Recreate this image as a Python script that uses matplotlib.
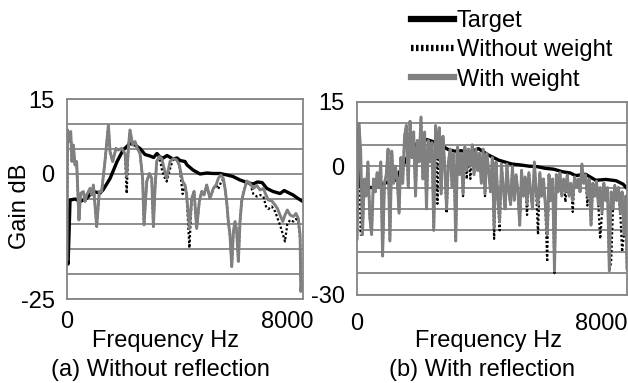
import matplotlib
matplotlib.use("Agg")
import matplotlib.pyplot as plt
from matplotlib.lines import Line2D

plt.rcParams['font.family'] = ['Liberation Sans', 'DejaVu Sans']

# ── (a) without reflection ───────────────────────────────────────────────────
target_a_hz = [0, 40, 110, 300, 470, 690, 945, 1200, 1310, 1565,
               1820, 2040, 2290, 2470, 2655, 2835, 3020, 3150, 3270, 3380,
               3500, 3635, 3855, 4000, 4110, 4290, 4365, 4580, 4835, 5090,
               5310, 5565, 5820, 6035, 6290, 6545, 6765, 6920, 7090, 7270,
               7490, 7745, 7900, 8000, 8220, 8400, 8545]
target_a = [-17, -18, -5.2, -5.0, -5.5, -5.0, -3.5, -3.8, -3.2, -0.9,
            2.5, 4.8, 6.1, 5.8, 5.1, 3.9, 3.6, 3.3, 4.1, 3.4,
            3.2, 3.7, 3.0, 3.2, 2.7, 2.5, 1.8, 0.8, 0, 0.2,
            0.1, 0.1, -0.2, -0.5, -1.2, -1.7, -2.0, -1.6, -1.7, -2.9,
            -3.5, -3.9, -3.3, -3.6, -4.2, -4.9, -5.4]

freq_a = [0, 20, 85, 135, 180, 230, 290, 350, 435, 495,
          595, 655, 715, 835, 900, 960, 1080, 1175, 1260, 1380,
          1505, 1565, 1660, 1780, 1865, 1990, 2110, 2170, 2230, 2290,
          2390, 2475, 2560, 2655, 2750, 2800, 2900, 2995, 3080, 3140,
          3200, 3260, 3360, 3445, 3530, 3625, 3745, 3865, 3990, 4085,
          4205, 4290, 4350, 4450, 4535, 4620, 4715, 4810, 4900, 4980,
          5080, 5200, 5320, 5420, 5500, 5590, 5685, 5745, 5805, 5865,
          5925, 5990, 6050, 6110, 6170, 6230, 6290, 6350, 6410, 6535,
          6655, 6775, 6900, 7020, 7140, 7235, 7320, 7445, 7565, 7650,
          7745, 7845, 7925, 8010, 8110, 8230, 8325, 8410, 8475, 8500,
          8540]
with_w_a = [-17, 8.8, 6.5, 8.5, 2.5, 5.8, 1.8, 2.5, -9.2, -3.9,
            -3.5, -5.5, -4.2, -2.9, -4.2, -2.2, -10.5, -3.5, -3.5, 2.5,
            9.8, 4.5, 2.5, 5.1, 4.8, 5.1, 4.1, -0.5, 5.1, 8.8,
            5.8, 6.5, 5.1, 4.1, -0.9, -10.2, -1.5, 0.1, -0.9, -10.5,
            -2.9, 2.5, 3.5, 3.1, 1.1, -0.9, 2.5, 3.1, 2.8, 1.8,
            -1.5, -2.2, -4.2, -10.9, -4.9, -3.5, -10.9, -5.5, -3.5, -4.2,
            -2.2, -4.9, -2.9, -2.2, -0.9, -0.2, -0.9, -2.9, -5.5, -9.5,
            -12.2, -18.5, -11.5, -9.5, -11.5, -17.5, -9.5, -5.5, -3.9, -1.4,
            -1.9, -2.9, -2.3, -3.2, -2.9, -4.2, -5.2, -5.4, -6.2, -6.9,
            -8.2, -9.5, -8.2, -7.2, -8.2, -8.5, -7.9, -8.9, -12.2, -23.5,
            -21.5]
without_w_a = [-17, 8.8, 6.5, 8.5, 2.5, 5.8, 1.8, 2.5, -9.2, -3.9,
               -3.5, -5.5, -4.2, -2.9, -4.2, -2.2, -10.5, -3.5, -3.5, 2.5,
               9.8, 4.5, 2.5, 5.1, 4.8, 5.1, 4.1, -3.9, 5.1, 8.8,
               5.8, 6.5, 5.1, 4.1, -0.9, -10.2, -1.5, 0.1, -0.9, -10.5,
               -2.9, 2.5, 3.5, 1.0, -0.5, -1.5, 1.0, 3.1, 2.8, 1.8,
               -4.0, -2.2, -4.2, -14.8, -4.9, -3.5, -10.9, -5.5, -3.5, -4.2,
               -2.2, -4.9, -2.9, -2.2, -3.0, -1.8, -0.9, -2.9, -5.5, -9.5,
               -12.2, -18.5, -11.5, -9.5, -11.5, -17.5, -9.5, -5.5, -3.9, -1.4,
               -1.9, -4.0, -4.5, -4.2, -4.5, -6.5, -7.0, -6.5, -7.5, -8.8,
               -10.2, -12.0, -13.5, -10.0, -9.2, -9.5, -9.0, -9.5, -13.0, -22.0,
               -22.5]

# ── (b) with reflection ──────────────────────────────────────────────────────
target_b_hz = [0, 50, 150, 500, 900, 1250, 1500, 1750, 2000, 2300,
               2600, 2990, 3200, 3420, 3700, 3985, 4315, 4650, 5080, 5350,
               5645, 5900, 6175, 6450, 6740, 7000, 7170, 7505, 7835, 8170,
               8500, 8730, 8860]
target_b = [9, -3, -5, -5, -4, -3.3, 0, 3.5, 5.5, 6.2,
            5.5, 3.9, 3.5, 3.6, 3.3, 4.1, 2.6, 1.4, 0.5, 0.3,
            0, -0.1, -0.5, -0.7, -1.3, -1.6, -2.2, -1.9, -3.3, -3.1,
            -3.4, -4.2, -5.2]

freq_b = [0, 60, 120, 180, 240, 300, 360, 420, 480, 540,
          600, 660, 720, 780, 840, 900, 960, 1020, 1080, 1140,
          1200, 1260, 1320, 1380, 1440, 1500, 1560, 1620, 1680, 1740,
          1800, 1860, 1920, 1980, 2040, 2100, 2160, 2220, 2280, 2340,
          2400, 2460, 2520, 2580, 2640, 2700, 2760, 2820, 2880, 2940,
          3000, 3060, 3120, 3180, 3240, 3300, 3360, 3420, 3480, 3540,
          3600, 3660, 3720, 3780, 3840, 3900, 3960, 4020, 4080, 4140,
          4200, 4260, 4320, 4380, 4440, 4500, 4560, 4620, 4680, 4740,
          4800, 4860, 4920, 4980, 5040, 5100, 5160, 5220, 5280, 5340,
          5400, 5460, 5520, 5580, 5640, 5700, 5760, 5820, 5880, 5940,
          6000, 6060, 6120, 6180, 6240, 6300, 6360, 6420, 6480, 6540,
          6600, 6660, 6720, 6780, 6840, 6900, 6960, 7020, 7080, 7140,
          7200, 7260, 7320, 7380, 7440, 7500, 7560, 7620, 7680, 7740,
          7800, 7860, 7920, 7980, 8040, 8100, 8160, 8220, 8280, 8340,
          8400, 8460, 8520, 8580, 8640, 8700, 8760, 8820, 8860]
with_w_b = [-17, 10, 4, -16, -3, -7, 1, -12, -16, -3,
            -6, -1.5, -5, 1, -21, -4, -2, 4, -17.5, 3.5,
            -4, 0, -3, -11, 2, -4, 7, 9.5, -5, 10.5,
            2, 8, -7, 6, 1, 11.5, -3, 8, -10, 6,
            1, 5.5, -15, 9.5, 2, 9, -6.5, 7, 0, -10,
            1, 4, -5, 3, -17.5, 4.5, -2, 3, -6.5, 4.5,
            -1, 4, 0, 5, -2, 4, -1, 3, -4, 4,
            -6.5, 3, -1, -6, 2, -14.5, 1, -7, -13, 0.5,
            -5, -10, 0.5, -6, -9, 0, -8, -2, -6, -13.8,
            -1, -7, -2.5, -9, -1.5, -6, -10, 1, -6, -9,
            -1.5, -7, -3, -9, -16, -2, -8, -3, -24.5, -2,
            -6, -1.5, -7, -3, -6, -2, -7, -4, -8, -2.5,
            -5, -3, -6, 0.5, -4, -2, -7, -3, -13.8, -4,
            -7, -3.5, -9, -5, -11, -4, -8, -5, -24.5, -6,
            -10, -4.5, -8, -5, -11, -6, -16, -7, -24]
without_w_b = [-17, 10, -16, -16, -3, -7, 1, -12, -16, -3,
               -6, -1.5, -5, 1, -21, -4, -2, 4, -17.5, 3.5,
               -4, 0, -3, -11, 2, -4, 7, 9.5, -5, 10.5,
               2, 8, -7, 6, 1, 11.5, -3, 8, -10, 6,
               1, 5.5, -15, 9.5, -8.8, 9, -6.5, 7, 0, -11,
               1, 4, -5, 3, -17.5, 4.5, -2, 3, -7, 4.5,
               -3, 4, -3, 5, -2, 4, -1, 3, -4, 4,
               -7, 3, -1, -6, 2, -17, 1, -7, -15, 0.5,
               -5, -10, 0.5, -6, -9, 0, -8, -2, -6, -13.8,
               -1, -7, -2.5, -11.4, -1.5, -6, -10, 1, -6, -16,
               -1.5, -7, -3, -9, -22.4, -2, -8, -3, -25, -2,
               -6, -1.5, -7, -3, -8.4, -2, -7, -4, -10.7, -2.5,
               -5, -3, -6, 0.5, -4, -2, -9.2, -3, -14, -4,
               -7, -3.5, -9, -17, -11, -4, -8, -5, -24.5, -22.4,
               -10, -4.5, -8, -5, -11, -20, -16, -7, -24]

series_labels = ["Target", "Without weight", "With weight"]
GREY = "#808080"
FS = 17

fig = plt.figure(figsize=(6.28, 3.83), dpi=100)
W, H = 628, 383
ax1 = fig.add_axes([67 / W, 1 - 299 / H, 236 / W, 200 / H])
ax2 = fig.add_axes([357 / W, 1 - 294.5 / H, 270 / W, 192.5 / H])


def draw(ax, t_hz, t_db, f, wo, ww, ylo, xmax):
    ax.plot(t_hz, t_db, color="black", lw=2.4, zorder=2)
    ax.plot(f, wo, color="black", lw=1.6, ls=(0, (1, 1)), zorder=3)
    ax.plot(f, ww, color=GREY, lw=2.1, zorder=4)
    ax.set_xlim(0, xmax)
    ax.set_ylim(ylo, 15)
    ax.set_yticks(list(range(ylo, 16, 5)))
    ax.set_yticklabels([str(v) if v in (ylo, 0, 15) else "" for v in range(ylo, 16, 5)])
    ax.set_xticks([0, 8000])
    ax.set_xticklabels(["0", "8000"])
    ax.grid(axis="y", color="#858585", lw=1.3)
    ax.set_axisbelow(True)
    for s in ax.spines.values():
        s.set_color("#858585")
        s.set_linewidth(1.3)
    ax.tick_params(length=0, labelsize=FS, pad=9)


draw(ax1, target_a_hz, target_a, freq_a, without_w_a, with_w_a, -25, 8580)
draw(ax2, target_b_hz, target_b, freq_b, without_w_b, with_w_b, -30, 8860)
ax2.tick_params(axis="x", pad=13)

fig.text(20 / W, 1 - 206 / H, "Gain dB", rotation=90, ha="center", va="center", fontsize=FS)
fig.text(165 / W, 1 - 341 / H, "Frequency Hz", ha="center", va="center", fontsize=FS)
fig.text(160 / W, 1 - 370 / H, "(a) Without reflection", ha="center", va="center", fontsize=FS)
fig.text(488 / W, 1 - 341 / H, "Frequency Hz", ha="center", va="center", fontsize=FS)
fig.text(482 / W, 1 - 370 / H, "(b) With reflection", ha="center", va="center", fontsize=FS)

handles = [Line2D([], [], color="black", lw=4.5),
           Line2D([], [], color="black", lw=4.5, ls=(0, (0.4, 0.4))),
           Line2D([], [], color=GREY, lw=4.5)]
fig.legend(handles, series_labels, loc="upper left", bbox_to_anchor=(409 / W, 1 - 8 / H),
           frameon=False, fontsize=FS, handlelength=1.8, handletextpad=0.12,
           labelspacing=0.3, borderpad=0.1, borderaxespad=0)

fig.savefig("out.png", dpi=100)
